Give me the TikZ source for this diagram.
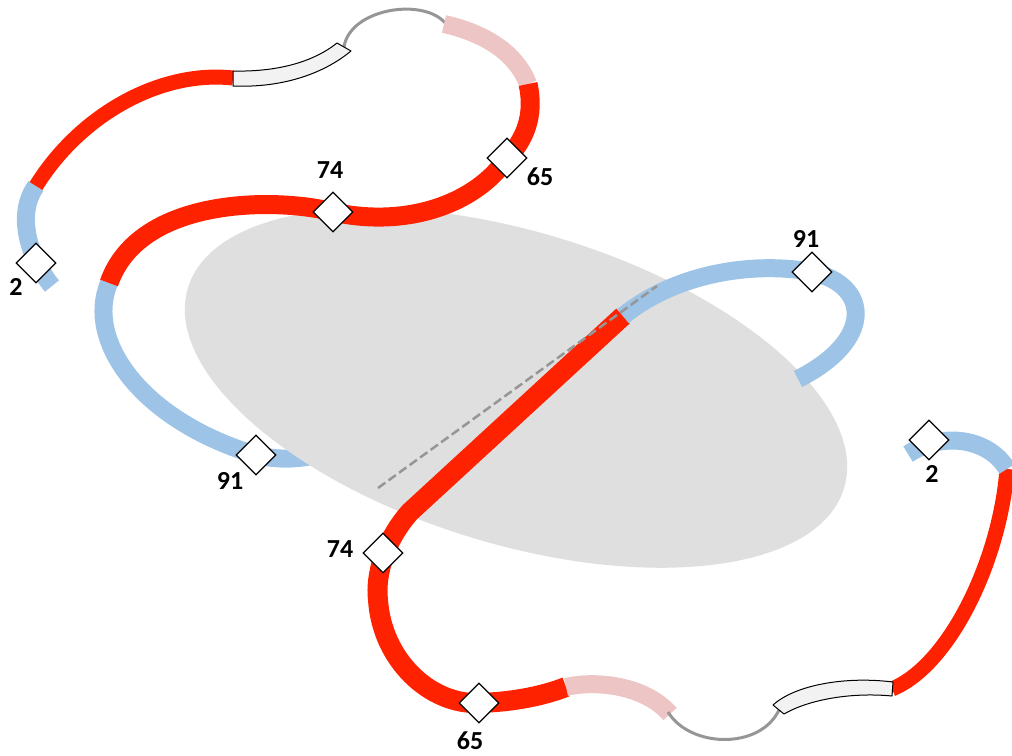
\documentclass[tikz,border=0pt]{standalone}
\usepackage{fontspec}
\setmainfont{Carlito}
\usetikzlibrary{shapes.geometric}
\definecolor{ribred}{RGB}{255,34,0}
\definecolor{ribblue}{RGB}{157,195,230}
\definecolor{ribpink}{RGB}{236,197,196}
\definecolor{loopgray}{RGB}{150,150,150}
\definecolor{membgray}{RGB}{223,223,223}
\definecolor{boxfill}{RGB}{242,242,242}
\tikzset{
  redband/.style={draw=ribred, line width=20pt},
  thinred/.style={draw=ribred, line width=15pt},
  blueband/.style={draw=ribblue, line width=18pt},
  pinkband/.style={draw=ribpink, line width=18pt},
  loopline/.style={draw=loopgray, line width=3pt},
  boxseg/.style={draw=black, fill=boxfill, line width=1pt, line join=round},
  membrane/.style={fill=membgray},
  axisline/.style={draw=loopgray, line width=2.5pt, dash pattern=on 9pt off 4pt},
  sitebox/.style={diamond, draw=black, fill=white, line width=1.2pt,
                  minimum width=40pt, minimum height=40pt, inner sep=0pt},
  sitelbl/.style={font=\bfseries\fontsize{26}{26}\selectfont, inner sep=0pt}
}

\begin{document}
\begin{tikzpicture}[x=1pt, y=-1pt]
\useasboundingbox (0,0) rectangle (1012,755);
\draw[blueband] (109,283) .. controls (85,340) and (140,420) .. (256,455) .. controls (285,462) and (310,458) .. (335,450);
\path[membrane, rotate around={-17:(516,388)}] (516,388) ellipse [x radius=343pt, y radius=156pt];
% upper chain
\draw[blueband] (52,286) .. controls (30,260) and (15,215) .. (36,186);
\draw[thinred] (36,186) .. controls (80,115) and (160,70) .. (233,78);
\draw[loopline] (344,47) .. controls (350,8) and (425,-3) .. (446,24);
\path[boxseg] (233,71) .. controls (275,72) and (312,63) .. (337,43) -- (351,51) .. controls (322,75) and (280,88) .. (233,86) -- cycle;
\draw[pinkband] (444,24) .. controls (480,32) and (515,50) .. (528,84);
\draw[redband, line width=19pt] (528,84) .. controls (535,115) and (525,140) .. (507,158) .. controls (475,205) and (405,228) .. (333,212) .. controls (280,198) and (140,195) .. (109,283);
% lower chain
\draw[redband] (623,316) -- (410,512) .. controls (385,540) and (375,575) .. (378,600) .. controls (382,660) and (430,705) .. (479,703) .. controls (510,702) and (540,697) .. (566,687);
\draw[blueband] (623,316) .. controls (680,270) and (760,262) .. (812,272) .. controls (870,285) and (875,340) .. (798,379);
\draw[pinkband] (566,687) .. controls (595,680) and (645,685) .. (670,714);
\draw[loopline] (668,712) .. controls (690,748) and (760,750) .. (779,710);
\draw[thinred] (892,689) .. controls (950,665) and (1000,560) .. (1007,469);
\path[boxseg] (773,705) .. controls (795,685) and (845,676) .. (893,682) -- (892,696) .. controls (850,692) and (808,700) .. (784,714) -- cycle;
\draw[blueband] (1007,469) .. controls (990,440) and (945,430) .. (908,454);
\draw[axisline] (378,488) -- (657,286);
% sites
\node[sitebox] (d2a) at (36,263) {};
\node[sitebox] (d74a) at (333,212) {};
\node[sitebox] (d65a) at (507,158) {};
\node[sitebox] (d91a) at (256,455) {};
\node[sitebox] (d91b) at (812,272) {};
\node[sitebox] (d2b) at (929,440) {};
\node[sitebox] (d74b) at (383,553) {};
\node[sitebox] (d65b) at (479,703) {};
\node[sitelbl] (l2a) at (16,287) {2};
\node[sitelbl] (l74a) at (330,170) {74};
\node[sitelbl] (l65a) at (540,177) {65};
\node[sitelbl] (l91a) at (230,481) {91};
\node[sitelbl] (l91b) at (806,239) {91};
\node[sitelbl] (l2b) at (932,474) {2};
\node[sitelbl] (l74b) at (340,549) {74};
\node[sitelbl] (l65b) at (470,741) {65};
\end{tikzpicture}
\end{document}
